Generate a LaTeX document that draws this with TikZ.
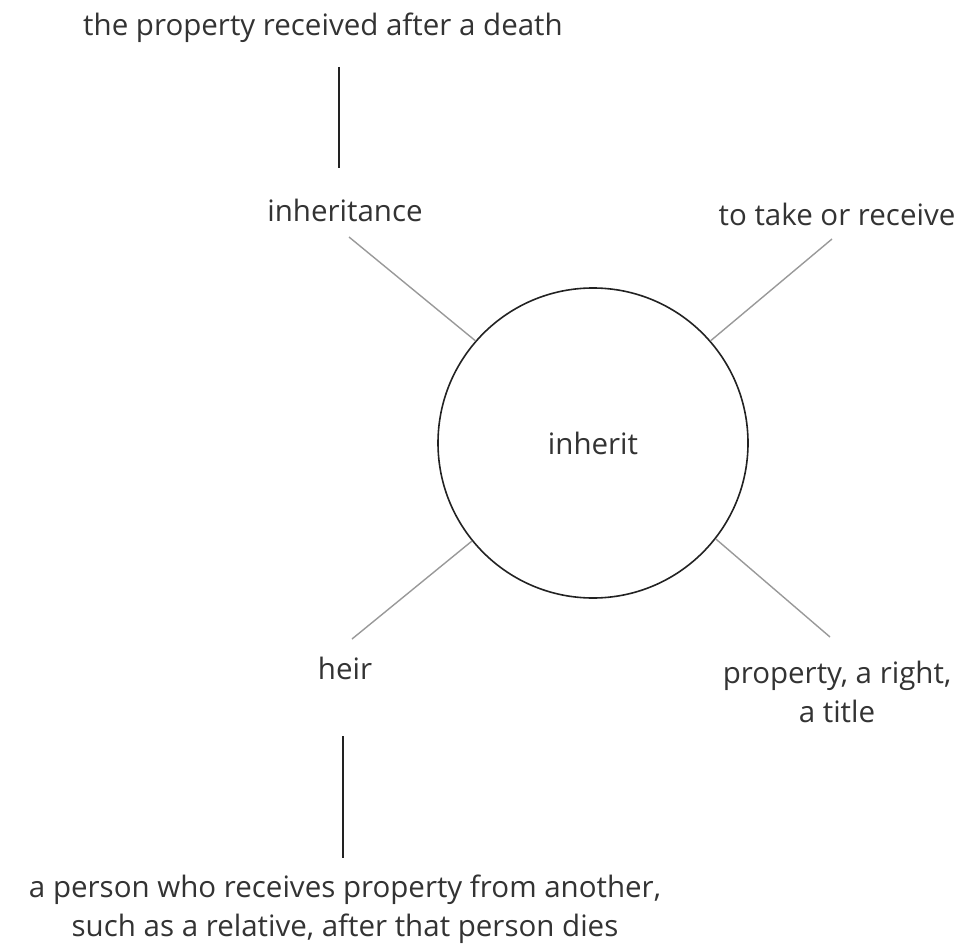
\documentclass[tikz,border=0pt]{standalone}
\usepackage{fontspec}
\setmainfont{Open Sans}
\definecolor{txt}{HTML}{333333}
\definecolor{spoke}{HTML}{999999}
\definecolor{stem}{HTML}{222222}
\begin{document}
\begin{tikzpicture}[x=1pt,y=-1pt,
  lbl/.style={font=\fontsize{29.5}{39}\selectfont, text=txt, align=center, inner sep=0pt},
  spokeline/.style={draw=spoke, line width=1.4pt},
  stemline/.style={draw=stem, line width=1.6pt},
  hub/.style={circle, draw=stem, line width=1.6pt, minimum size=310pt, inner sep=0pt}]
\useasboundingbox (0,0) rectangle (971,952);
\node[hub] (c) at (593,443) {};
\node[lbl] (cl) at (593,443) {inherit};
\node[lbl] (top) at (323,28) {the property received after a death};
\node[lbl] (inh) at (345,210) {inheritance};
\node[lbl] (take) at (837,214) {to take or receive};
\node[lbl] (heir) at (345,668) {heir};
\node[lbl] (prop) at (837,692) {property, a right,\\a title};
\node[lbl] (pers) at (345,909) {a person who receives property from another,\\such as a relative, after that person dies};
\coordinate (t1) at (339,67);
\coordinate (t2) at (339,168);
\coordinate (b1) at (343,736);
\coordinate (b2) at (343,858);
\coordinate (s1) at (349,237);
\coordinate (s2) at (832,239);
\coordinate (s3) at (352,639);
\coordinate (s4) at (830,637);
\draw[stemline] (t1) -- (t2);
\draw[stemline] (b1) -- (b2);
\draw[spokeline] (s1) -- (c.139.6);
\draw[spokeline] (s2) -- (c.41.5);
\draw[spokeline] (s3) -- (c.219.3);
\draw[spokeline] (s4) -- (c.-38.9);
\end{tikzpicture}
\end{document}
